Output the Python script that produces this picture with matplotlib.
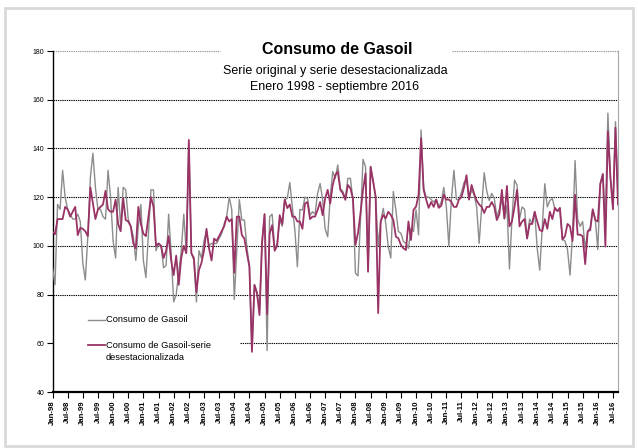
import matplotlib
matplotlib.use('Agg')
from matplotlib import pyplot as plt
from matplotlib.patches import Rectangle
import numpy as np
import pandas as pd

plt.rcParams['font.family'] = ['Liberation Sans', 'DejaVu Sans']

# Consumo de gasoil, serie original (indice), ene-1998 .. sep-2016
consumo = [
    91, 84, 117, 115, 131, 120, 115, 113, 111, 111, 113, 110,            # 1998
    93, 86, 104, 128, 138, 124, 115, 115, 112, 111, 131, 120,            # 1999
    102, 95, 124, 108, 124, 123, 111, 108, 104, 94, 108, 117,            # 2000
    94, 87, 105, 123, 123, 98, 101, 100, 91, 92, 113, 97,                # 2001
    77, 80, 89, 98, 113, 97, 142, 97, 94, 77, 98, 95,                    # 2002
    102, 106, 100, 101, 101, 101, 103, 105, 109, 112, 120, 115,          # 2003
    78, 98, 119, 110.6, 110.6, 99.6, 91.4, 57, 84, 81, 73.6, 102,        # 2004
    113, 57, 112, 113, 99, 101, 110.6, 108, 119, 119.5, 126, 116,        # 2005
    106.5, 91.4, 115, 114.7, 120, 119.5, 112.6, 114, 113, 121.5, 125.6, 119,   # 2006
    107, 103.7, 120, 130.5, 127.7, 133.2, 123.6, 122.3, 119.5, 127.7, 127.7, 118.9,  # 2007
    88.8, 87.7, 110.7, 135.5, 132.5, 89.4, 132.5, 127, 120, 100, 110, 115.4,   # 2008
    109.3, 99.7, 95, 122.3, 114.8, 105.9, 105.2, 101.8, 101, 99, 107.2, 105.9,  # 2009
    114.8, 104.5, 147.6, 124, 120, 120, 119, 118, 119, 116, 118, 124,    # 2010
    116, 100, 119, 131, 119, 119, 122, 126, 127, 119, 123, 121,          # 2011
    116, 101, 116, 130, 122.5, 118.6, 121.5, 119.5, 112, 115, 119, 111,  # 2012
    116.5, 90.5, 111, 127, 125, 111, 116, 115, 103, 111, 109, 114,       # 2013
    99, 90, 108, 125.5, 116, 118.6, 119.5, 115, 114.3, 114.3, 102.6, 102,  # 2014
    98.5, 88, 105, 135, 111, 108, 110, 99, 106, 107.5, 115, 111,         # 2015
    98.5, 125.5, 129.5, 110, 154.5, 128, 116, 151, 120,                  # 2016
]

# serie desestacionalizada
desestacionalizada = [
    105.8, 104.8, 111, 111, 111, 116, 115, 112, 114, 116, 104.4, 107.4,  # 1998
    107, 106, 104, 124, 117.4, 111, 115, 116, 117, 122.6, 115, 114,      # 1999
    114, 119, 109, 106, 119.5, 110.6, 110, 108, 101, 99, 116, 109,       # 2000
    105, 104, 112, 120, 116, 100, 101, 100, 95, 98, 104, 94,             # 2001
    88, 96, 84, 95, 100, 97, 143.5, 97, 95, 81, 90, 93,                  # 2002
    98, 107, 99, 94, 103, 102, 104, 106, 108, 112, 110, 111,             # 2003
    89, 112, 112, 104.4, 103, 97, 91.4, 56.5, 84, 80.5, 71.6, 101,       # 2004
    113, 72, 105, 108.5, 98, 100, 112.6, 109, 119, 115.5, 117, 112,      # 2005
    112, 110, 110, 107, 117.4, 118, 111, 112, 112, 114.7, 118, 112.6,    # 2006
    119.5, 123, 117.4, 125, 129, 130.5, 123, 121.6, 118.9, 125, 123.6, 119.5,  # 2007
    100.4, 105.2, 113.4, 123, 129.8, 89.4, 132.5, 126.4, 120.2, 72.4, 110, 112.7,  # 2008
    111.3, 114, 112.7, 110.7, 103.8, 103.1, 100.4, 99, 98.3, 110, 102.4, 114.8,  # 2009
    116.1, 120.9, 144.2, 123, 119, 115.6, 118, 116, 119, 115.6, 116.5, 121,  # 2010
    119, 119, 118, 116, 116, 119, 120, 124, 129, 119, 125, 121.5,        # 2011
    118.6, 117, 116, 113.5, 116, 116, 118, 116, 110.6, 113, 123, 111.3,  # 2012
    124.6, 108, 110, 116, 123, 108, 110, 111, 103, 109, 109, 114,        # 2013
    110, 106.5, 106, 111, 107, 114, 111, 115.6, 114.3, 115.6, 102.6, 104,  # 2014
    109, 108, 102, 121, 104.6, 104.6, 104, 92.5, 106, 106.5, 115, 110.6,  # 2015
    110, 125.5, 129.5, 99.7, 147, 128, 115, 148.5, 117,                  # 2016
]

meses = pd.date_range('1998-01-01', periods=len(consumo), freq='MS')
tick_pos = np.arange(0, len(meses), 6)
tick_labels = [m.strftime('%b-%y') for m in meses[tick_pos]]
y_ticks = [40, 60, 80, 100, 120, 140, 160, 180]

W, H = 638, 448
fig = plt.figure(figsize=(W / 100, H / 100), dpi=100)
ax_l, ax_r, ax_t, ax_b = 52.5, 618, 51, 392
ax = fig.add_axes([ax_l / W, 1 - ax_b / H, (ax_r - ax_l) / W, (ax_b - ax_t) / H])

x = np.arange(len(consumo))
ax.plot(x, consumo, color='#8c8c8c', lw=1.0, zorder=3)
ax.plot(x, desestacionalizada, color='#993366', lw=1.3, zorder=4)

ax.set_xlim(0, len(consumo) - 1)
ax.set_ylim(40, 180)

# dotted gridlines (the 180 one is broken by the title box, the 60 one by the legend)
dots = (0, (1.2, 0.8))
for v in [80, 100, 120, 140, 160]:
    ax.axhline(v, color='black', lw=0.8, ls=dots, zorder=1)
ax.axhline(60, xmin=(240 - ax_l) / (ax_r - ax_l), color='black', lw=0.8, ls=dots, zorder=1)
ax.axhline(180, xmax=(220 - ax_l) / (ax_r - ax_l), color='#9a9a9a', lw=0.8, ls=dots, zorder=1, clip_on=False)
ax.axhline(180, xmin=(452 - ax_l) / (ax_r - ax_l), color='#9a9a9a', lw=0.8, ls=dots, zorder=1, clip_on=False)

ax.spines['top'].set_visible(False)
ax.spines['right'].set_color('#a6a6a6')
ax.spines['left'].set_linewidth(1.0)
ax.spines['bottom'].set_linewidth(1.6)

ax.set_yticks(y_ticks)
ax.set_yticklabels([str(v) for v in y_ticks], fontsize=5)
ax.set_xticks(tick_pos)
ax.set_xticklabels(tick_labels, rotation=90, fontsize=5.6, fontweight='bold')
ax.tick_params(axis='both', direction='out', length=4, width=0.8, pad=2)

# legend, placed like the Excel one
def fx(px):
    return (px - ax_l) / (ax_r - ax_l)

def fy(py):
    return (ax_b - py) / (ax_b - ax_t)

ax.plot([fx(88), fx(105)], [fy(320), fy(320)], transform=ax.transAxes,
        color='#8c8c8c', lw=1.0, clip_on=False)
ax.text(fx(106), fy(320), 'Consumo de Gasoil', transform=ax.transAxes,
        fontsize=6.7, va='center', ha='left')
ax.plot([fx(88), fx(105)], [fy(345), fy(345)], transform=ax.transAxes,
        color='#993366', lw=1.3, clip_on=False)
ax.text(fx(106), fy(345), 'Consumo de Gasoil-serie', transform=ax.transAxes,
        fontsize=6.7, va='center', ha='left')
ax.text(fx(106), fy(357.5), 'desestacionalizada', transform=ax.transAxes,
        fontsize=6.7, va='center', ha='left')

# titles
fig.text(337 / W, 1 - 50 / H, 'Consumo de Gasoil', fontsize=11.5,
         fontweight='bold', ha='center', va='center')
fig.text(335 / W, 1 - 71 / H, 'Serie original y serie desestacionalizada',
         fontsize=9, ha='center', va='center')
fig.text(335 / W, 1 - 87 / H, 'Enero 1998 - septiembre 2016',
         fontsize=9, ha='center', va='center')

# chart area border
fig.add_artist(Rectangle((5 / W, 2 / H), 628 / W, 438 / H, transform=fig.transFigure,
                         fill=False, edgecolor='#d9d9d9', lw=2))

fig.savefig('out.png', dpi=100)
